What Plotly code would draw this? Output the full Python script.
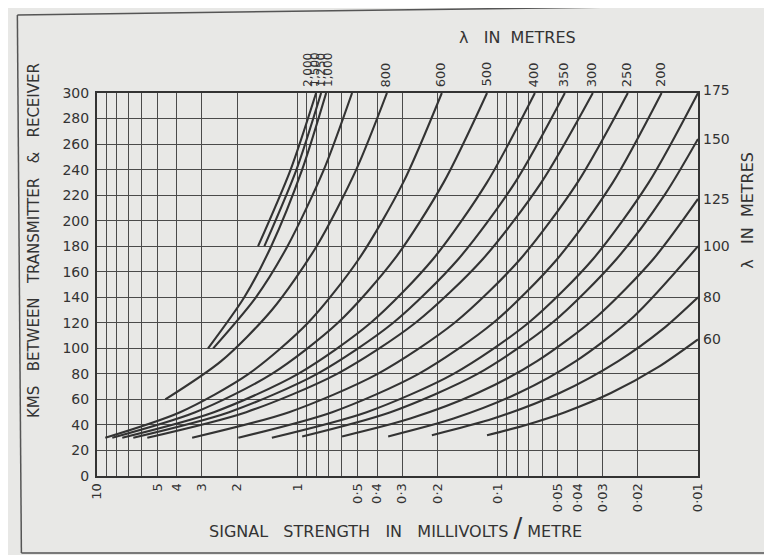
import math
import plotly.graph_objects as go

# ---- data: signal strength (mV/m) vs distance (km) ----
labels = ["2,000", "1,500", "1,250", "1,000", "800", "600", "500", "400", "350",
          "300", "250", "200", "175", "150", "125", "100", "80", "60"]

mv_2000 = [1.57, 1.08, 0.806]
km_2000 = [180, 240, 300]
mv_1500 = [1.46, 1.01, 0.761]
km_1500 = [180, 240, 300]
mv_1250 = [2.79, 1.84, 1.35, 0.946, 0.718]
km_1250 = [100, 140, 180, 240, 300]
mv_1000 = [2.63, 1.61, 1.12, 0.737, 0.533]
km_1000 = [100, 140, 180, 240, 300]
mv_800 = [4.56, 2.40, 1.34, 0.801, 0.508, 0.357]
km_800 = [60, 90, 130, 180, 240, 300]
mv_600 = [9.09, 3.85, 1.75, 0.884, 0.493, 0.296, 0.190]
km_600 = [30, 50, 80, 120, 170, 230, 300]
mv_500 = [8.39, 3.23, 1.34, 0.627, 0.327, 0.186, 0.113]
km_500 = [30, 50, 80, 120, 170, 230, 300]
mv_400 = [7.48, 2.61, 0.991, 0.430, 0.210, 0.113, 0.0652]
km_400 = [30, 50, 80, 120, 170, 230, 300]
mv_350 = [6.59, 2.19, 0.796, 0.332, 0.157, 0.0818, 0.0462]
km_350 = [30, 50, 80, 120, 170, 230, 300]
mv_300 = [5.61, 1.80, 0.633, 0.257, 0.1185, 0.0605, 0.0335]
km_300 = [30, 50, 80, 120, 170, 230, 300]
mv_250 = [3.35, 1.10, 0.397, 0.164, 0.077, 0.0399, 0.0224]
km_250 = [30, 50, 80, 120, 170, 230, 300]
mv_200 = [1.97, 0.670, 0.248, 0.105, 0.0504, 0.0266, 0.0152]
km_200 = [30, 50, 80, 120, 170, 230, 300]
mv_175 = [1.34, 0.451, 0.166, 0.0701, 0.0334, 0.0176, 0.0100]
km_175 = [30, 50, 80, 120, 170, 230, 300]
mv_150 = [0.946, 0.343, 0.126, 0.0534, 0.0255, 0.0147, 0.0100]
km_150 = [31, 50, 80, 120, 170, 220, 264]
mv_125 = [0.598, 0.273, 0.126, 0.0636, 0.0319, 0.0167, 0.0100]
km_125 = [31, 45, 65, 90, 125, 170, 217]
mv_100 = [0.352, 0.166, 0.0787, 0.0407, 0.0209, 0.0100]
km_100 = [31, 45, 65, 90, 125, 180]
mv_80 = [0.213, 0.105, 0.049, 0.025, 0.0150, 0.0100]
km_80 = [32, 45, 65, 90, 115, 140]
mv_60 = [0.113, 0.0722, 0.0461, 0.0272, 0.0159, 0.0100]
km_60 = [32, 40, 50, 65, 85, 107]

series_mv = [mv_2000, mv_1500, mv_1250, mv_1000, mv_800, mv_600, mv_500, mv_400, mv_350,
             mv_300, mv_250, mv_200, mv_175, mv_150, mv_125, mv_100, mv_80, mv_60]
series_km = [km_2000, km_1500, km_1250, km_1000, km_800, km_600, km_500, km_400, km_350,
             km_300, km_250, km_200, km_175, km_150, km_125, km_100, km_80, km_60]

# x-axis ticks
x_label_vals = [10, 5, 4, 3, 2, 1, 0.5, 0.4, 0.3, 0.2, 0.1, 0.05, 0.04, 0.03, 0.02, 0.01]
x_label_text = ["10", "5", "4", "3", "2", "1", "0·5", "0·4", "0·3", "0·2", "0·1",
                "0·05", "0·04", "0·03", "0·02", "0·01"]
x_grid_vals = [9, 8, 7, 6, 0.9, 0.8, 0.7, 0.6, 0.09, 0.08, 0.07, 0.06]
y_ticks = list(range(0, 301, 20))

# label placement (top labels: label -> pixel shift)
top_label_shift = {"2,000": -8, "1,500": -6.5, "1,250": -5, "1,000": -24}
right_labels = ["175", "150", "125", "100", "80", "60"]

INK = "#333333"
GRID = "#4a4a4a"
BG = "#e8e8e6"
FONT = "DejaVu Sans"

fig = go.Figure()
for mv, km in zip(series_mv, series_km):
    fig.add_trace(go.Scatter(x=mv, y=km, mode="lines",
                             line=dict(color=INK, width=2.1, shape="spline", smoothing=0.8),
                             hoverinfo="skip", showlegend=False))

annotations = []
for lab, mv, km in zip(labels, series_mv, series_km):
    if lab in right_labels:
        annotations.append(dict(x=math.log10(mv[-1]), y=km[-1], xref="x", yref="y",
                                text=lab, showarrow=False, xanchor="left", yanchor="middle",
                                xshift=3, yshift=3 if lab == "175" else 0,
                                font=dict(family=FONT, size=14, color=INK)))
    else:
        small = lab in top_label_shift
        annotations.append(dict(x=math.log10(mv[-1]), y=km[-1], xref="x", yref="y",
                                text=lab, showarrow=False, textangle=-90,
                                xanchor="center", yanchor="bottom",
                                xshift=top_label_shift.get(lab, -1), yshift=4,
                                font=dict(family=FONT, size=12 if small else 13, color=INK)))

sp = "\u00a0\u00a0\u00a0"
lam = "λ" + sp + "IN" + "\u00a0\u00a0" + "METRES"
annotations += [
    dict(text=lam, x=0.70, y=1.146, xref="paper", yref="paper",
         showarrow=False, xanchor="center", yanchor="middle",
         font=dict(family=FONT, size=16, color=INK)),
    dict(text=lam, x=1.083, y=0.695, xref="paper", yref="paper",
         showarrow=False, textangle=-90, xanchor="center", yanchor="middle",
         font=dict(family=FONT, size=16, color=INK)),
    dict(text="KMS" + sp + "BETWEEN" + sp + "TRANSMITTER" + sp + "&" + sp + "RECEIVER",
         x=-0.105, y=0.616, xref="paper", yref="paper", showarrow=False, textangle=-90,
         xanchor="center", yanchor="middle", font=dict(family=FONT, size=15, color=INK)),
    dict(text="SIGNAL" + sp + "STRENGTH" + sp + "IN" + sp + "MILLIVOLTS" + "\u00a0"
         + "<span style='font-size:26px'>/</span>" + "\u00a0" + "METRE",
         x=0.4975, y=-0.136, xref="paper", yref="paper", showarrow=False,
         xanchor="center", yanchor="middle", font=dict(family=FONT, size=16, color=INK)),
]

frame = dict(color="#555555", width=1.5)
shapes = [
    dict(type="line", xref="paper", yref="paper", x0=-0.1325, y0=1.2037, x1=1.1225, y1=1.2298, line=frame),
    dict(type="line", xref="paper", yref="paper", x0=-0.1325, y0=1.2037, x1=-0.1258, y1=-0.201, line=frame),
    dict(type="line", xref="paper", yref="paper", x0=-0.1258, y0=-0.201, x1=1.1225, y1=-0.201, line=frame),
]

all_x = x_label_vals + x_grid_vals
all_x_text = x_label_text + [""] * len(x_grid_vals)

# the page body adds an 8 px offset, so the figure is 8 px smaller on each side
fig.update_layout(
    width=764, height=547, autosize=False,
    margin=dict(l=89, r=74, t=85, b=79),
    paper_bgcolor=BG, plot_bgcolor=BG,
    annotations=annotations, shapes=shapes,
    xaxis=dict(type="log", range=[1, -2], tickvals=all_x, ticktext=all_x_text,
               tickangle=-90, showgrid=True, gridcolor=GRID, gridwidth=1.4,
               showline=True, linecolor=INK, linewidth=2, mirror=True,
               ticks="", zeroline=False,
               tickfont=dict(family=FONT, size=13, color=INK)),
    yaxis=dict(range=[0, 300], tickvals=y_ticks, showgrid=True, gridcolor=GRID, gridwidth=1.4,
               showline=True, linecolor=INK, linewidth=2, mirror=True,
               ticks="", zeroline=False, ticklabelstandoff=3,
               tickfont=dict(family=FONT, size=14, color=INK)),
)

fig.write_html("out.html")
